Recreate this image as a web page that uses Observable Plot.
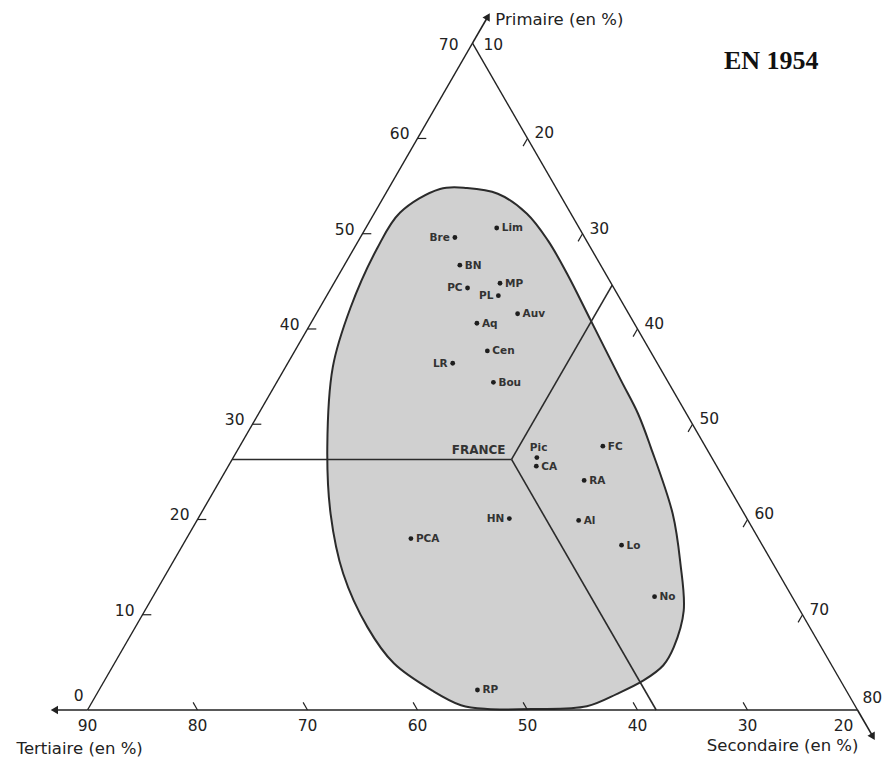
<!DOCTYPE html>
<html><head><meta charset="utf-8">
<script src="https://cdn.jsdelivr.net/npm/d3@7"></script>
<script src="https://cdn.jsdelivr.net/npm/@observablehq/plot@0.6"></script>
<style>
body{margin:0;background:#fff;}
#chart{position:relative;width:885px;height:759px;}
#title{position:absolute;left:724px;top:46px;font-family:"Liberation Serif",serif;font-weight:bold;font-size:26px;color:#111;margin:0;}
</style>
</head><body><div id="chart"><div id="title">EN 1954</div></div>
<script>
// Regions (1954): shares of employment by sector, in %
const regions    = ["Lim","Bre","BN","PC","MP","PL","Auv","Aq","Cen","LR","Bou","Pic","CA","FC","RA","HN","Al","PCA","Lo","No","RP"];
const primaire   = [50.6,49.6,46.7,44.3,44.8,43.5,41.6,40.6,37.7,36.4,34.4,26.5,25.6,27.7,24.1,20.1,19.9,18.0,17.3,11.9,2.1];
const secondaire = [21.9,18.6,20.5,22.4,25.1,25.6,28.3,25.1,27.5,25.0,29.7,37.6,38.0,43.0,43.1,38.3,44.7,30.4,49.9,55.6,44.4];
const tertiaire  = [27.5,31.8,32.8,33.3,30.1,30.9,30.1,34.3,34.8,38.6,35.9,35.9,36.4,29.3,32.8,41.6,35.4,51.6,32.8,32.5,53.5];

// France as a whole
const francePrimaire = 26.3, franceSecondaire = 35.4, franceTertiaire = 38.3;

// Envelope of the regional cloud (primaire, secondaire)
const envelopePrimaire   = [54.7,52.2,48.5,42.2,36.0,27.6,20.6,14.3,8.7,4.9,2.0,0.5,0.1,0.1,0.4,1.7,3.1,4.7,6.6,10.4,15.4,20.6,27.6,31.1,34.6,40.9,45.8,49.3,52.1,54.2,54.8];
const envelopeSecondaire = [14.7,12.3,12.1,12.8,14.3,18.0,21.8,26.1,31.1,35.4,40.4,43.7,46.3,50.5,55.2,57.3,59.0,60.0,60.0,59.0,56.2,52.9,47.4,44.5,41.2,35.3,30.7,27.2,23.9,20.2,17.1];

// Axis ticks
const primaireTicks   = [0,10,20,30,40,50,60,70];
const secondaireTicks = [10,20,30,40,50,60,70,80];
const tertiaireTicks  = [90,80,70,60,50,40,30,20];

// Ternary window: primaire 0–70, secondaire 10–80, tertiaire 20–90
const SMIN = 10, TMIN = 20, PMAX = 70;
const X = (p, s) => (s - SMIN) + p / 2;   // cartesian in % units
const Y = (p) => p;

const points = regions.map((r, i) => ({r, p: primaire[i], s: secondaire[i], t: tertiaire[i]}));
const envelope = envelopePrimaire.map((p, i) => ({p, s: envelopeSecondaire[i]}));

const corners = [{p:0, s:SMIN}, {p:0, s:100-TMIN}, {p:PMAX, s:SMIN}];
const sides = [[corners[0], corners[1]], [corners[1], corners[2]], [corners[2], corners[0]]];

const france = {p: francePrimaire, s: franceSecondaire, t: franceTertiaire};
const franceLines = [
  [france, {p: france.p, s: SMIN}],                          // constant primaire to left side
  [france, {p: 100 - TMIN - france.s, s: france.s}],         // constant secondaire to right side
  [france, {p: 0, s: 100 - france.t}]                        // constant tertiaire to base
];

const ext = 2.7;
const axisArrows = [
  {a: {p: PMAX, s: SMIN}, b: {p: PMAX + ext, s: SMIN}, rot: 30},
  {a: {p: 0, s: 100 - TMIN}, b: {p: -ext, s: 100 - TMIN + ext}, rot: 150},
  {a: {p: 0, s: SMIN}, b: {p: 0, s: SMIN - ext - 0.2}, rot: -90}
];

const L = 0.8;
const leftTickMarks  = primaireTicks.filter(v => v > 0 && v < PMAX).map(p => [{p, s: SMIN}, {p, s: SMIN + L}]);
const rightTickMarks = secondaireTicks.filter(v => v > SMIN && v < 100 - TMIN).map(s => [{p: 100 - TMIN - s, s}, {p: 100 - TMIN - s - L, s}]);
const baseTickMarks  = tertiaireTicks.filter(v => v > TMIN && v < 100 - SMIN).map(t => [{p: 0, s: 100 - t}, {p: L, s: 100 - t - L}]);
const tickMarks = [...leftTickMarks, ...rightTickMarks, ...baseTickMarks];

const seg = {x1: d => X(d[0].p, d[0].s), y1: d => Y(d[0].p), x2: d => X(d[1].p, d[1].s), y2: d => Y(d[1].p)};

const leftLabelled = new Set(["Bre","PC","PL","LR","HN"]);
const font = "DejaVu Sans, sans-serif";

const plot = Plot.plot({
  width: 885,
  height: 759,
  marginLeft: 87,
  marginRight: 28,
  marginTop: 42.7,
  marginBottom: 49.5,
  x: {domain: [0, 70], axis: null},
  y: {domain: [0, 70], axis: null},
  style: {background: "transparent", fontFamily: font},
  marks: [
    Plot.line(envelope, {x: d => X(d.p, d.s), y: d => Y(d.p), curve: "catmull-rom-closed", fill: "#d0d0d0", stroke: "#2b2b2b", strokeWidth: 2}),
    Plot.link(franceLines, {...seg, stroke: "#2b2b2b", strokeWidth: 1.6}),
    Plot.link(sides, {...seg, stroke: "#222", strokeWidth: 1.4}),
    Plot.link(axisArrows, {x1: d => X(d.a.p, d.a.s), y1: d => Y(d.a.p), x2: d => X(d.b.p, d.b.s), y2: d => Y(d.b.p), stroke: "#222", strokeWidth: 1.6}),
    Plot.dot(axisArrows, {x: d => X(d.b.p, d.b.s), y: d => Y(d.b.p), symbol: "triangle2", r: 4, fill: "#222", rotate: d => d.rot}),
    Plot.link(tickMarks, {...seg, stroke: "#222", strokeWidth: 1.2}),
    // primaire tick labels (left side)
    Plot.text(primaireTicks.filter(v => v > 0 && v < PMAX), {x: p => X(p, SMIN), y: p => Y(p), text: d => String(d), textAnchor: "end", dx: -8, dy: -4, fontSize: 15.5, fill: "#222"}),
    Plot.text([0], {x: p => X(p, SMIN), y: p => Y(p), text: d => String(d), textAnchor: "end", dx: -4, dy: -14, fontSize: 15.5, fill: "#222"}),
    Plot.text([PMAX], {x: p => X(p, SMIN), y: p => Y(p), text: d => String(d), textAnchor: "end", dx: -14, dy: 2, fontSize: 15.5, fill: "#222"}),
    // secondaire tick labels (right side)
    Plot.text(secondaireTicks.filter(v => v > SMIN && v < 100 - TMIN), {x: s => X(100 - TMIN - s, s), y: s => Y(100 - TMIN - s), text: d => String(d), textAnchor: "start", dx: 7, dy: -5, fontSize: 15.5, fill: "#222"}),
    Plot.text([SMIN], {x: s => X(100 - TMIN - s, s), y: s => Y(100 - TMIN - s), text: d => String(d), textAnchor: "start", dx: 11, dy: 2, fontSize: 15.5, fill: "#222"}),
    Plot.text([100 - TMIN], {x: s => X(100 - TMIN - s, s), y: s => Y(100 - TMIN - s), text: d => String(d), textAnchor: "start", dx: 5, dy: -12, fontSize: 15.5, fill: "#222"}),
    // tertiaire tick labels (base)
    Plot.text(tertiaireTicks.filter(v => v > TMIN), {x: t => X(0, 100 - t), y: 0, text: d => String(d), dy: 16, fontSize: 15.5, fill: "#222"}),
    Plot.text([TMIN], {x: t => X(0, 100 - t), y: 0, text: d => String(d), dx: -14, dy: 16, fontSize: 15.5, fill: "#222"}),
    // axis titles
    Plot.text(["Primaire (en %)"], {x: X(PMAX + ext, SMIN), y: Y(PMAX + ext), text: d => d, textAnchor: "start", dx: 8, dy: 2, fontSize: 16.5, fill: "#222"}),
    Plot.text(["Tertiaire (en %)"], {x: X(0, SMIN - ext - 0.2), y: 0, text: d => d, textAnchor: "start", dx: -39, dy: 39, fontSize: 16.5, fill: "#222"}),
    Plot.text(["Secondaire (en %)"], {x: X(0, 100 - TMIN), y: 0, text: d => d, textAnchor: "end", dx: 1, dy: 36, fontSize: 16.5, fill: "#222"}),
    // regions
    Plot.dot(points, {x: d => X(d.p, d.s), y: d => Y(d.p), r: 2.4, fill: "#1e1e1e", stroke: "none"}),
    Plot.text(points.filter(d => !leftLabelled.has(d.r) && d.r !== "Pic"), {x: d => X(d.p, d.s), y: d => Y(d.p), text: "r", textAnchor: "start", dx: 5, fontSize: 10.5, fontWeight: "bold", fill: "#333"}),
    Plot.text(points.filter(d => leftLabelled.has(d.r)), {x: d => X(d.p, d.s), y: d => Y(d.p), text: "r", textAnchor: "end", dx: -5, fontSize: 10.5, fontWeight: "bold", fill: "#333"}),
    Plot.text(points.filter(d => d.r === "Pic"), {x: d => X(d.p, d.s), y: d => Y(d.p), text: "r", textAnchor: "start", dx: -7, dy: -10, fontSize: 10.5, fontWeight: "bold", fill: "#333"}),
    Plot.text([france], {x: d => X(d.p, d.s), y: d => Y(d.p), text: () => "FRANCE", textAnchor: "end", dx: -6, dy: -9, fontSize: 12, fontWeight: "bold", fill: "#333"})
  ]
});
plot.style.position = "absolute";
plot.style.left = "0";
plot.style.top = "0";
document.getElementById("chart").prepend(plot);
</script>
</body></html>
